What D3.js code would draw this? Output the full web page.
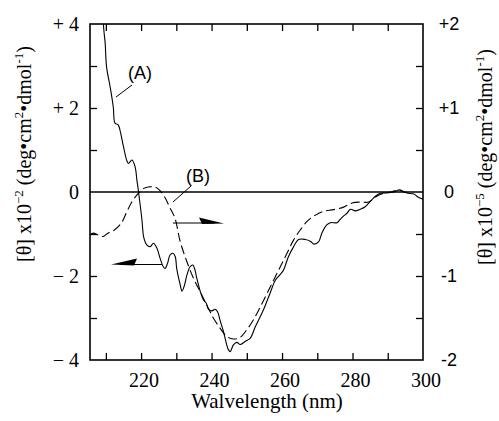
<!DOCTYPE html>
<html>
<head>
<meta charset="utf-8">
<script src="https://cdn.jsdelivr.net/npm/d3@7"></script>
<style>
  body { margin: 0; background: #fff; }
  .serif { font-family: "Liberation Serif", "DejaVu Serif", serif; }
  .sans { font-family: "Liberation Sans", Arial, sans-serif; }
</style>
</head>
<body>
<svg id="chart" width="499" height="421"></svg>
<script>
// curve (A), solid, left axis ([θ] x10^-2)
const wlA = [209.0, 209.3, 209.5, 209.8, 210.2, 211.2, 212.1, 212.6, 213.5, 214.2, 215.0, 215.9, 216.4, 217.4, 218.3, 218.8,
  219.2, 220.2, 220.8, 221.6, 222.6, 223.5, 224.5, 225.4, 226.3, 226.8, 227.5, 228.2, 229.0, 229.7, 230.1, 231.1,
  231.6, 232.2, 233.0, 233.9, 234.7, 235.3, 235.8, 236.8, 237.7, 238.5, 239.1, 240.1, 241.0, 241.7, 242.4, 243.4,
  244.3, 244.8, 245.3, 246.2, 247.2, 248.1, 249.5, 251.0, 252.4, 254.7, 256.6, 258.1, 259.3, 260.4, 261.8, 263.3,
  264.7, 266.6, 268.0, 269.1, 270.4, 271.3, 272.6, 273.7, 275.6, 276.5, 277.5, 278.4, 279.4, 280.8, 282.2, 283.6,
  285.1, 286.5, 287.9, 289.8, 291.7, 293.4, 294.5, 295.9, 297.4, 298.8, 300.0];
const thA = [4.5, 4.0, 3.79, 3.55, 2.98, 2.51, 2.03, 1.64, 1.60, 1.40, 1.08, 0.76, 0.68, 0.76, 0.60, 0.29,
  0.05, -0.63, -1.10, -1.26, -1.30, -1.22, -1.34, -1.58, -1.78, -1.82, -1.70, -1.50, -1.46, -1.54, -1.82, -2.21,
  -2.36, -2.25, -1.98, -1.78, -1.74, -1.86, -2.05, -2.37, -2.57, -2.65, -2.79, -2.83, -2.79, -2.85, -3.05, -3.33,
  -3.64, -3.76, -3.80, -3.64, -3.58, -3.63, -3.56, -3.48, -3.21, -2.81, -2.41, -2.10, -1.98, -1.86, -1.54, -1.30,
  -1.13, -1.13, -1.17, -1.24, -1.18, -0.98, -0.79, -0.73, -0.73, -0.65, -0.57, -0.51, -0.41, -0.45, -0.41, -0.35,
  -0.22, -0.10, -0.03, -0.02, 0.0, 0.05, 0.0, -0.03, -0.05, -0.13, -0.17];

// curve (B), dashed, right axis ([θ] x10^-5)
const wlB = [205.5, 206.4, 207.8, 209.2, 210.6, 212.5, 214.4, 215.8, 217.2, 218.7, 219.6, 220.6, 222.0, 223.9, 225.3,
  226.7, 228.1, 229.6, 231.1, 233.0, 234.9, 236.8, 238.7, 240.5, 242.4, 244.3, 246.2, 248.1, 250.0, 251.9, 253.8,
  255.7, 257.6, 259.5, 261.4, 263.3, 265.2, 267.1, 268.9, 271.8, 274.6, 277.5, 279.9, 282.2, 284.6, 286.5, 288.4,
  290.7, 293.1, 295.5];
const thB = [-0.51, -0.49, -0.51, -0.53, -0.49, -0.45, -0.37, -0.25, -0.13, -0.04, 0.0, 0.04, 0.06, 0.06, 0.02,
  -0.06, -0.18, -0.31, -0.59, -0.83, -1.03, -1.19, -1.35, -1.50, -1.62, -1.72, -1.75, -1.73, -1.64, -1.52, -1.37,
  -1.21, -1.05, -0.89, -0.73, -0.57, -0.45, -0.35, -0.29, -0.23, -0.21, -0.18, -0.13, -0.12, -0.12, -0.06, -0.02,
  0.0, 0.02, -0.01];

const xTicks = [210, 220, 230, 240, 250, 260, 270, 280, 290];
const xLabels = [220, 240, 260, 280, 300];
const leftTicks = [3, 2, 1, -1, -2, -3];
const leftLabels = [4, 2, 0, -2, -4];
const rightTicks = [1.5, 1, 0.5, -0.5, -1, -1.5];
const rightLabels = [2, 1, 0, -1, -2];

const svg = d3.select('#chart');
const pL = 90, pR = 423, pT = 24, pB = 360;

const x = d3.scaleLinear().domain([205.5, 300]).range([pL, pR]);
const yL = d3.scaleLinear().domain([-4, 4]).range([pB, pT]);
const yR = d3.scaleLinear().domain([-2, 2]).range([pB, pT]);

svg.append('defs').append('clipPath').attr('id', 'clip')
  .append('rect').attr('x', pL).attr('y', pT).attr('width', pR - pL).attr('height', pB - pT);

// ticks, all pointing inward
const tickStyle = g => {
  g.select('.domain').remove();
  g.selectAll('line').attr('stroke', '#000').attr('stroke-width', 1.3);
};
svg.append('g').attr('transform', `translate(0,${pB})`)
  .call(d3.axisBottom(x).tickValues(xTicks).tickSize(-7).tickFormat('')).call(tickStyle);
svg.append('g').attr('transform', `translate(0,${pT})`)
  .call(d3.axisTop(x).tickValues(xTicks).tickSize(-7).tickFormat('')).call(tickStyle);
svg.append('g').attr('transform', `translate(${pL},0)`)
  .call(d3.axisLeft(yL).tickValues(leftTicks).tickSize(-7).tickFormat('')).call(tickStyle);
svg.append('g').attr('transform', `translate(${pR},0)`)
  .call(d3.axisRight(yR).tickValues(rightTicks).tickSize(-7).tickFormat('')).call(tickStyle);

// frame and zero line
svg.append('rect').attr('x', pL).attr('y', pT).attr('width', pR - pL).attr('height', pB - pT)
  .attr('fill', 'none').attr('stroke', '#000').attr('stroke-width', 1.6);
svg.append('line').attr('x1', pL).attr('x2', pR).attr('y1', yL(0)).attr('y2', yL(0))
  .attr('stroke', '#000').attr('stroke-width', 1.6);

// tick labels
svg.append('g').selectAll('text').data(xLabels).join('text')
  .attr('class', 'serif').attr('x', d => x(d) + 3).attr('y', 387)
  .attr('text-anchor', 'middle').attr('font-size', 20).text(d => d);

const fmtL = d => d > 0 ? '+ ' + d : d < 0 ? '\u2212 ' + (-d) : '0';
svg.append('g').selectAll('text').data(leftLabels).join('text')
  .attr('class', 'serif').attr('x', 79).attr('y', d => yL(d)).attr('dy', '0.35em')
  .attr('text-anchor', 'end').attr('font-size', 20).text(fmtL);

const fmtR = d => d > 0 ? '+' + d : d < 0 ? '-' + (-d) : '0';
svg.append('g').selectAll('text').data(rightLabels).join('text')
  .attr('class', 'sans').attr('x', 449).attr('y', d => yR(d)).attr('dy', '0.35em')
  .attr('text-anchor', 'middle').attr('font-size', 18).text(fmtR);

// axis titles
svg.append('text').attr('class', 'serif').attr('x', 267).attr('y', 408)
  .attr('text-anchor', 'middle').attr('font-size', 21).text('Walvelength (nm)');

function axisTitle(tx, ty, exp) {
  const t = svg.append('text').attr('class', 'serif').attr('font-size', 20)
    .attr('text-anchor', 'middle').attr('transform', `translate(${tx},${ty}) rotate(-90)`);
  t.append('tspan').text('[\u03b8] x10');
  t.append('tspan').attr('dy', -8).attr('font-size', 13).text(exp);
  t.append('tspan').attr('dy', 8).text(' (deg\u2022cm');
  t.append('tspan').attr('dy', -8).attr('font-size', 13).text('2');
  t.append('tspan').attr('dy', 8).text('\u2022dmol');
  t.append('tspan').attr('dy', -8).attr('font-size', 13).text('-1');
  t.append('tspan').attr('dy', 8).text(')');
}
axisTitle(31, 154, '\u22122');
axisTitle(492, 157, '\u22125');

// curves
const lineA = d3.line().x(d => x(d[0])).y(d => yL(d[1])).curve(d3.curveCatmullRom);
const lineB = d3.line().x(d => x(d[0])).y(d => yR(d[1])).curve(d3.curveCatmullRom);
const plot = svg.append('g').attr('clip-path', 'url(#clip)');
plot.append('path').datum(d3.zip(wlA, thA)).attr('d', lineA)
  .attr('fill', 'none').attr('stroke', '#000').attr('stroke-width', 1.1);
plot.append('path').datum(d3.zip(wlB, thB)).attr('d', lineB)
  .attr('fill', 'none').attr('stroke', '#000').attr('stroke-width', 1.1).attr('stroke-dasharray', '9,4');

// annotations
svg.append('text').attr('class', 'sans').attr('x', 140).attr('y', 79)
  .attr('text-anchor', 'middle').attr('font-size', 18).text('(A)');
svg.append('line').attr('x1', 132).attr('y1', 85).attr('x2', 116).attr('y2', 97)
  .attr('stroke', '#000').attr('stroke-width', 1);
svg.append('text').attr('class', 'sans').attr('x', 198).attr('y', 182)
  .attr('text-anchor', 'middle').attr('font-size', 18).text('(B)');
svg.append('line').attr('x1', 191).attr('y1', 186).attr('x2', 173).attr('y2', 202)
  .attr('stroke', '#000').attr('stroke-width', 1);

// arrows pointing to each curve's axis
svg.append('line').attr('x1', 173).attr('y1', 223).attr('x2', 214).attr('y2', 223)
  .attr('stroke', '#000').attr('stroke-width', 1.1);
svg.append('path').attr('d', 'M224,223.5 L199,217.5 L202,224 Z').attr('fill', '#000');
svg.append('line').attr('x1', 162).attr('y1', 264.5).attr('x2', 120).attr('y2', 264.5)
  .attr('stroke', '#000').attr('stroke-width', 1.1);
svg.append('path').attr('d', 'M111,264.5 L137,258.5 L134,265.5 Z').attr('fill', '#000');
</script>
</body>
</html>
